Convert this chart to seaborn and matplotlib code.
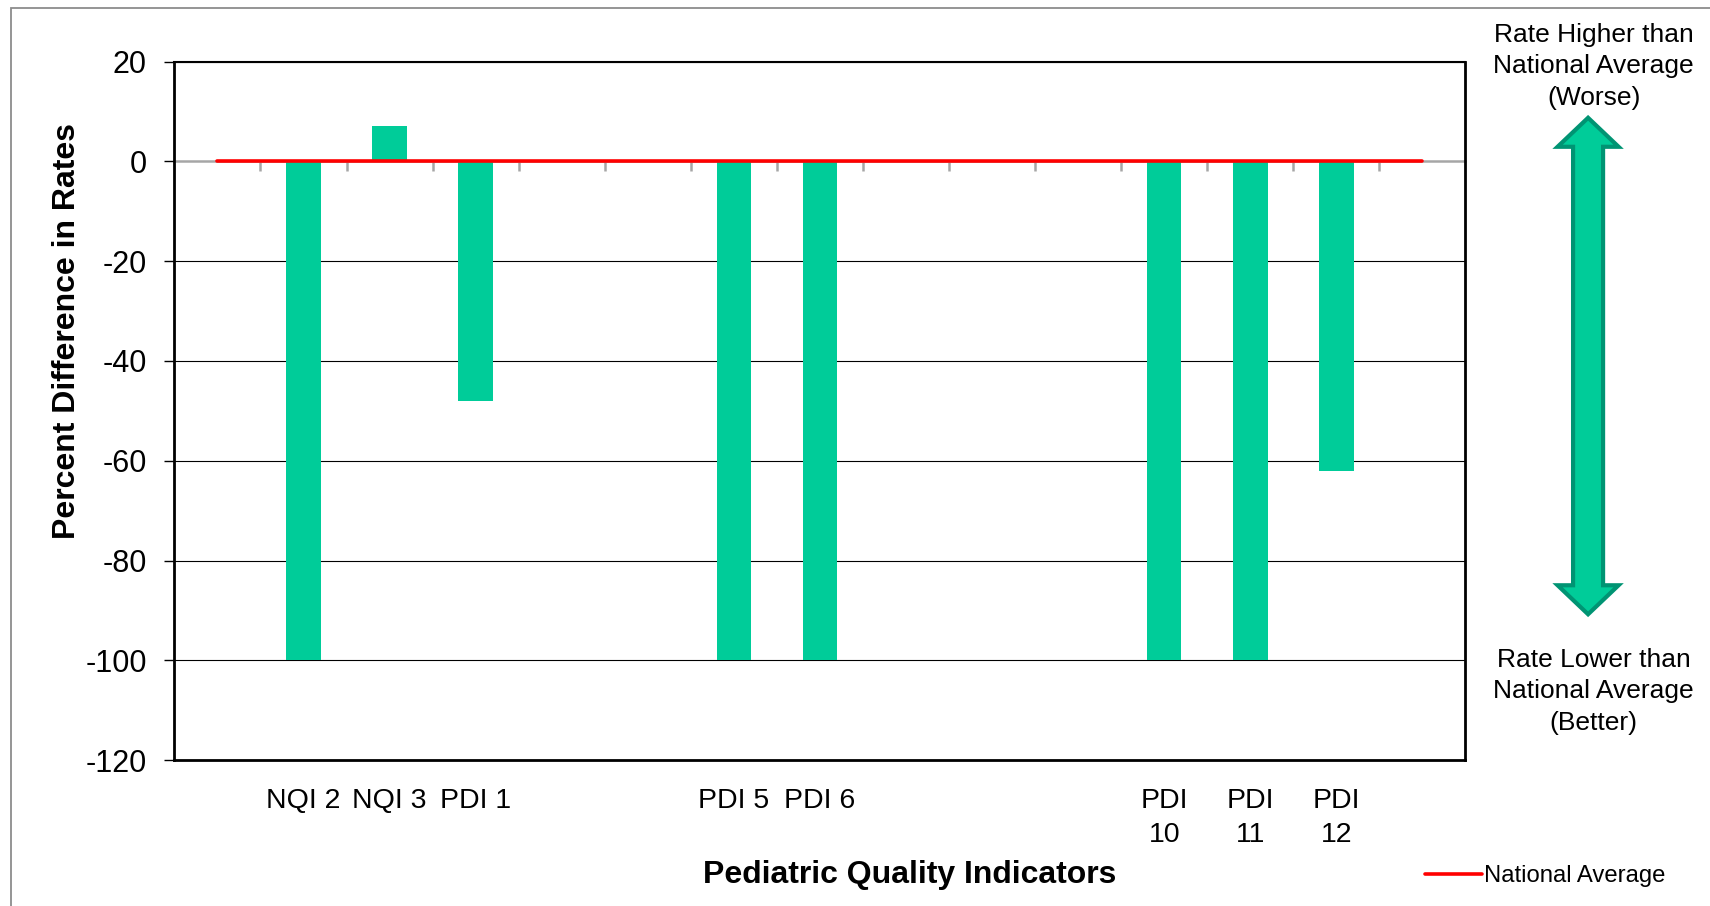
import numpy as np
import pandas as pd
import matplotlib
matplotlib.use("Agg")
import matplotlib.pyplot as plt
import matplotlib.patches as mpatches
from matplotlib.lines import Line2D
import seaborn as sns

# 15 category slots on the axis, only some carry an indicator
slot_labels = ["", "NQI 2", "NQI 3", "PDI 1", "", "", "PDI 5", "PDI 6",
               "", "", "", "PDI\n10", "PDI\n11", "PDI\n12", ""]
indicators = ["NQI 2", "NQI 3", "PDI 1", "PDI 5", "PDI 6", "PDI 10", "PDI 11", "PDI 12"]
indicator_slot = [1, 2, 3, 6, 7, 11, 12, 13]
pct_diff = [-100, 7, -48, -100, -100, -100, -100, -62]
national_avg = [0, 0, 0, 0, 0, 0, 0, 0, 0, 0, 0, 0, 0, 0, 0]
y_ticks = [20, 0, -20, -40, -60, -80, -100, -120]

BAR = "#00CC99"
narrow = ["Liberation Sans Narrow", "Liberation Sans", "DejaVu Sans"]
regular = ["Liberation Sans", "DejaVu Sans"]

sns.set_theme(style="white")
plt.rcParams["font.family"] = regular
for key in ["text.color", "axes.labelcolor", "xtick.color", "ytick.color"]:
    plt.rcParams[key] = "black"

df = pd.DataFrame({"indicator": indicators, "slot": indicator_slot, "pct": pct_diff})

fig = plt.figure(figsize=(17.1, 9.06), dpi=100)
ax = fig.add_axes([0.102, 0.161, 0.755, 0.771])

# zero (category) axis sits on its own twin, underneath the data
ax2 = ax.twiny()
ax2.set_zorder(ax.get_zorder() - 1)
ax.patch.set_visible(False)

sns.barplot(data=df, x="slot", y="pct", native_scale=True, width=0.4,
            color=BAR, saturation=1, linewidth=0, ax=ax, zorder=2)
sns.lineplot(x=np.arange(len(national_avg)), y=national_avg, color="red",
             linewidth=2.6, ax=ax, zorder=3, legend=False)

ax.set_xlim(-0.5, len(slot_labels) - 0.5)
ax.set_ylim(y_ticks[-1], y_ticks[0])
ax.set_yticks(y_ticks)
ax.set_yticklabels([str(v) for v in y_ticks], fontsize=22, family=regular)
ax.set_xticks(np.arange(len(slot_labels)))
ax.set_xticklabels(slot_labels, fontsize=20.5, family=narrow, linespacing=1.4)
ax.tick_params(axis="x", length=0, pad=20)
ax.tick_params(axis="y", direction="out", length=7, width=1, color="black",
               left=True, pad=13)
ax.set_xlabel("")
ax.set_ylabel("")

ax.set_axisbelow(True)
ax.yaxis.grid(True, color="black", linewidth=0.8)
ax.xaxis.grid(False)
for tick_val, gl in zip(y_ticks, ax.get_ygridlines()):
    if tick_val == 0:
        gl.set_visible(False)

for side in ["left", "bottom", "right"]:
    ax.spines[side].set_color("black")
    ax.spines[side].set_linewidth(2)
ax.spines["top"].set_color("black")
ax.spines["top"].set_linewidth(1.5)

ax2.set_xlim(ax.get_xlim())
for side in ["top", "left", "right"]:
    ax2.spines[side].set_visible(False)
ax2.spines["bottom"].set_visible(True)
ax2.spines["bottom"].set_position(("data", 0))
ax2.spines["bottom"].set_color("#A6A6A6")
ax2.spines["bottom"].set_linewidth(1.8)
ax2.xaxis.set_ticks_position("bottom")
ax2.set_xticks(np.arange(len(slot_labels) - 1) + 0.5)
ax2.tick_params(axis="x", direction="out", length=7, width=1.8,
                color="#A6A6A6", labelbottom=False, labeltop=False)
ax2.grid(False)

# axis titles
fig.text(0.0389, 0.635, "Percent Difference in Rates", rotation=90,
         ha="center", va="center", fontsize=23, fontweight="bold", family=narrow)
fig.text(0.532, 0.034, "Pediatric Quality Indicators", ha="center", va="center",
         fontsize=23, fontweight="bold", family=narrow)

# right-hand annotation
fig.text(0.932, 0.927, "Rate Higher than\nNational Average\n(Worse)", ha="center",
         va="center", fontsize=19, family=regular, linespacing=1.4)
fig.text(0.932, 0.237, "Rate Lower than\nNational Average\n(Better)", ha="center",
         va="center", fontsize=19, family=regular, linespacing=1.4)

cx, top, bot = 0.9287, 0.870, 0.322
HW, hw, L = 30.5 / 1710, 15 / 1710, 29 / 906
arrow_pts = [(cx, top), (cx + HW, top - L), (cx + hw, top - L), (cx + hw, bot + L),
             (cx + HW, bot + L), (cx, bot), (cx - HW, bot + L), (cx - hw, bot + L),
             (cx - hw, top - L), (cx - HW, top - L)]
fig.patches.append(mpatches.Polygon(arrow_pts, closed=True, transform=fig.transFigure,
                                    facecolor=BAR, edgecolor="#009473", linewidth=3))

# outer chart border
fig.patches.append(mpatches.Rectangle((11 / 1710, -0.1), 1.2, 1 - 8 / 906 + 0.1,
                                      transform=fig.transFigure, fill=False,
                                      edgecolor="#8C8C8C", linewidth=1.3))

handle = Line2D([], [], color="red", linewidth=2.6)
fig.legend([handle], ["National Average"], loc="center left",
           bbox_to_anchor=(0.8205, 0.033), frameon=False, handlelength=2.4,
           handletextpad=0.1, prop={"family": narrow, "size": 17.2})

fig.savefig("out.png", dpi=100)
